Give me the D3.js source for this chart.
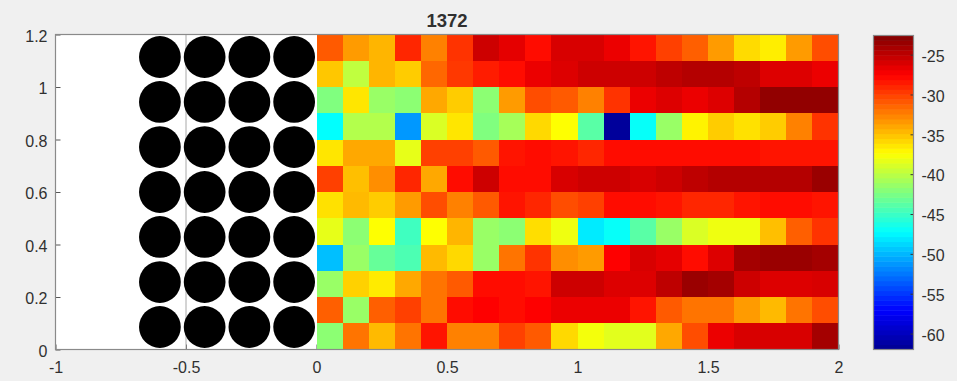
<!DOCTYPE html>
<html>
<head>
<meta charset="utf-8">
<script src="https://cdn.jsdelivr.net/npm/d3@7"></script>
<style>
  html, body { margin: 0; padding: 0; background: #f0f0f0; }
  svg { display: block; }
  text { font-family: Helvetica, "Liberation Sans", Arial, sans-serif; fill: #303030; }
</style>
</head>
<body>
<svg id="fig" width="957" height="381"></svg>
<script>
// ---- data ----
const title = "1372";

// cell centres of the field grid (x along the channel, y across it)
const xCenters = [0.05, 0.15, 0.25, 0.35, 0.45, 0.55, 0.65, 0.75, 0.85, 0.95,
                  1.05, 1.15, 1.25, 1.35, 1.45, 1.55, 1.65, 1.75, 1.85, 1.95];
const yCenters = [1.15, 1.05, 0.95, 0.85, 0.75, 0.65, 0.55, 0.45, 0.35, 0.25, 0.15, 0.05];
const cellWidth = 0.1;
const cellHeight = 0.1;

// field level per cell, one row per yCenters entry (top row first)
const row0  = [-31.0, -33.5, -34.5, -29.0, -32.5, -29.5, -25.6, -26.5, -28.0, -26.0, -26.0, -26.8, -28.3, -30.0, -31.2, -33.5, -36.0, -36.7, -33.5, -30.5];
const row1  = [-35.2, -39.8, -34.5, -35.4, -31.5, -29.7, -28.6, -28.0, -26.8, -26.2, -25.6, -25.6, -25.6, -25.0, -24.6, -24.6, -25.0, -26.2, -26.2, -26.8];
const row2  = [-42.3, -36.4, -41.3, -41.8, -34.0, -35.4, -41.8, -33.5, -30.5, -31.0, -32.5, -29.5, -26.8, -26.2, -26.8, -26.2, -24.6, -23.3, -23.3, -23.3];
const row3  = [-47.2, -40.3, -40.3, -51.2, -38.8, -36.4, -42.3, -40.8, -35.9, -37.4, -43.8, -61.5, -47.0, -41.3, -36.9, -35.4, -36.2, -35.4, -32.5, -29.5];
const row4  = [-36.4, -34.0, -34.0, -38.3, -30.0, -30.0, -31.0, -28.3, -28.0, -28.3, -29.0, -28.0, -28.0, -28.0, -28.0, -28.0, -28.0, -28.3, -28.3, -28.3];
const row5  = [-30.0, -34.9, -33.0, -29.0, -34.0, -28.0, -25.6, -28.0, -28.0, -26.0, -25.6, -25.6, -26.0, -25.6, -25.0, -24.6, -24.6, -24.6, -24.6, -23.6];
const row6  = [-36.2, -34.7, -35.4, -33.5, -30.5, -32.5, -31.0, -28.3, -29.0, -30.5, -30.0, -28.0, -28.0, -28.3, -29.0, -29.0, -28.3, -28.0, -28.0, -28.3];
const row7  = [-38.3, -41.8, -37.4, -44.8, -37.4, -34.5, -41.3, -41.8, -36.1, -38.0, -48.0, -47.0, -43.8, -41.3, -38.8, -38.0, -38.0, -34.9, -31.2, -29.5];
const row8  = [-49.7, -41.3, -43.3, -44.3, -34.7, -35.9, -41.3, -32.0, -29.5, -33.0, -33.5, -27.5, -26.0, -26.5, -28.0, -26.2, -24.0, -23.6, -23.6, -24.0];
const row9  = [-41.3, -35.6, -36.6, -34.0, -32.0, -31.0, -28.0, -28.0, -28.3, -25.6, -25.6, -26.2, -26.2, -25.0, -23.6, -24.0, -25.6, -26.2, -26.2, -26.0];
const row10 = [-31.2, -41.3, -31.2, -30.0, -32.0, -28.0, -27.5, -28.0, -27.5, -26.8, -26.8, -26.8, -28.3, -31.0, -32.0, -32.0, -33.5, -34.7, -32.0, -30.5];
const row11 = [-41.8, -32.0, -34.7, -32.0, -28.3, -32.5, -32.5, -30.0, -31.0, -35.9, -37.8, -38.5, -38.5, -34.0, -30.5, -26.8, -26.0, -26.0, -26.0, -24.0];
const levels = [row0, row1, row2, row3, row4, row5, row6, row7, row8, row9, row10, row11];

// tube bank (cylinder centres and radius)
const tubeX = [-0.6, -0.4286, -0.2571, -0.0857];
const tubeY = [0.0857, 0.2571, 0.4286, 0.6, 0.7714, 0.9429, 1.1143];
const tubeRadius = 0.08;

// marker line at x = -0.5
const markerX = [-0.5];

// axes and colour bar
const xDomain = [-1, 2];
const yDomain = [0, 1.2];
const xTicks = [-1, -0.5, 0, 0.5, 1, 1.5, 2];
const xTickLabels = ["-1", "-0.5", "0", "0.5", "1", "1.5", "2"];
const yTicks = [0, 0.2, 0.4, 0.6, 0.8, 1, 1.2];
const yTickLabels = ["0", "0.2", "0.4", "0.6", "0.8", "1", "1.2"];
const colorLimits = [-62, -22.6];
const cbTicks = [-25, -30, -35, -40, -45, -50, -55, -60];
const cbTickLabels = ["-25", "-30", "-35", "-40", "-45", "-50", "-55", "-60"];

// jet colormap anchors
const jetStops = [0, 0.125, 0.375, 0.625, 0.875, 1];
const jetColors = ["#000090", "#0000ff", "#00ffff", "#ffff00", "#ff0000", "#800000"];

// ---- drawing ----
const svg = d3.select("#fig");
const plot = { left: 55.5, right: 838.5, top: 34.5, bottom: 349.5 };
const cb = { left: 873.5, right: 913.5, top: 35.5, bottom: 349.5 };
const frameColor = "#8a8a8a";

const x = d3.scaleLinear().domain(xDomain).range([plot.left, plot.right]);
const y = d3.scaleLinear().domain(yDomain).range([plot.bottom, plot.top]);

const span = colorLimits[1] - colorLimits[0];
const color = d3.scaleLinear()
  .domain(jetStops.map(t => colorLimits[0] + t * span))
  .range(jetColors)
  .interpolate(d3.interpolateRgb)
  .clamp(true);

// axes background
svg.append("rect")
  .attr("x", plot.left).attr("y", plot.top)
  .attr("width", plot.right - plot.left).attr("height", plot.bottom - plot.top)
  .attr("fill", "#ffffff");

// axes ticks and labels (ticks point inward)
const gx = svg.append("g").attr("transform", `translate(0,${plot.bottom})`)
  .call(d3.axisBottom(x).tickValues(xTicks).tickFormat((d, i) => xTickLabels[i])
    .tickSizeInner(-5).tickSizeOuter(0).tickPadding(12));
const gy = svg.append("g").attr("transform", `translate(${plot.left},0)`)
  .call(d3.axisLeft(y).tickValues(yTicks).tickFormat((d, i) => yTickLabels[i])
    .tickSizeInner(-5).tickSizeOuter(0).tickPadding(8));
for (const g of [gx, gy]) {
  g.select(".domain").remove();
  g.selectAll(".tick line").attr("stroke", "#555").attr("stroke-width", 1);
  g.selectAll(".tick text").attr("font-size", 16).attr("fill", "#303030")
    .attr("font-family", 'Helvetica, "Liberation Sans", Arial, sans-serif');
}
gy.selectAll(".tick text").attr("dy", "0.42em");

// marker line
svg.append("g").selectAll("line").data(markerX).join("line")
  .attr("x1", d => x(d)).attr("x2", d => x(d))
  .attr("y1", plot.top).attr("y2", plot.bottom)
  .attr("stroke", "#a8a8a8").attr("stroke-width", 1);

// field cells
const cells = [];
levels.forEach((row, j) => row.forEach((v, i) => cells.push({ cx: xCenters[i], cy: yCenters[j], v })));
svg.append("g").selectAll("rect").data(cells).join("rect")
  .attr("x", d => x(d.cx - cellWidth / 2))
  .attr("y", d => y(d.cy + cellHeight / 2))
  .attr("width", d => x(d.cx + cellWidth / 2) - x(d.cx - cellWidth / 2))
  .attr("height", d => y(d.cy - cellHeight / 2) - y(d.cy + cellHeight / 2))
  .attr("fill", d => color(d.v))
  .attr("shape-rendering", "crispEdges");

// tubes
const tubes = [];
tubeY.forEach(ty => tubeX.forEach(tx => tubes.push({ tx, ty })));
svg.append("g").selectAll("circle").data(tubes).join("circle")
  .attr("cx", d => x(d.tx)).attr("cy", d => y(d.ty))
  .attr("r", x(tubeRadius) - x(0))
  .attr("fill", "#000000");

// axes frame
svg.append("rect")
  .attr("x", plot.left).attr("y", plot.top)
  .attr("width", plot.right - plot.left).attr("height", plot.bottom - plot.top)
  .attr("fill", "none").attr("stroke", frameColor).attr("stroke-width", 1.2);

// title
svg.append("text")
  .attr("x", (plot.left + plot.right) / 2).attr("y", 27)
  .attr("text-anchor", "middle")
  .attr("font-size", 18.5).attr("font-weight", "bold").attr("fill", "#222")
  .text(title);

// colour bar
const cbScale = d3.scaleLinear().domain(colorLimits).range([cb.bottom, cb.top]);
const nLevels = 64;
const levelSteps = d3.range(nLevels).map(k => colorLimits[0] + (k / nLevels) * span);
svg.append("g").selectAll("rect").data(levelSteps).join("rect")
  .attr("x", cb.left).attr("width", cb.right - cb.left)
  .attr("y", d => cbScale(d + span / nLevels))
  .attr("height", d => cbScale(d) - cbScale(d + span / nLevels) + 0.5)
  .attr("fill", d => color(d + span / nLevels / 2));

const gc = svg.append("g").attr("transform", `translate(${cb.right},0)`)
  .call(d3.axisRight(cbScale).tickValues(cbTicks).tickFormat((d, i) => cbTickLabels[i])
    .tickSizeInner(-3).tickSizeOuter(0).tickPadding(8));
gc.select(".domain").remove();
gc.selectAll(".tick line").attr("stroke", "#333").attr("stroke-width", 1);
gc.selectAll(".tick text").attr("font-size", 16).attr("fill", "#303030")
  .attr("dy", "0.42em")
  .attr("font-family", 'Helvetica, "Liberation Sans", Arial, sans-serif');

svg.append("rect")
  .attr("x", cb.left).attr("y", cb.top)
  .attr("width", cb.right - cb.left).attr("height", cb.bottom - cb.top)
  .attr("fill", "none").attr("stroke", frameColor).attr("stroke-width", 1.2);
</script>
</body>
</html>
